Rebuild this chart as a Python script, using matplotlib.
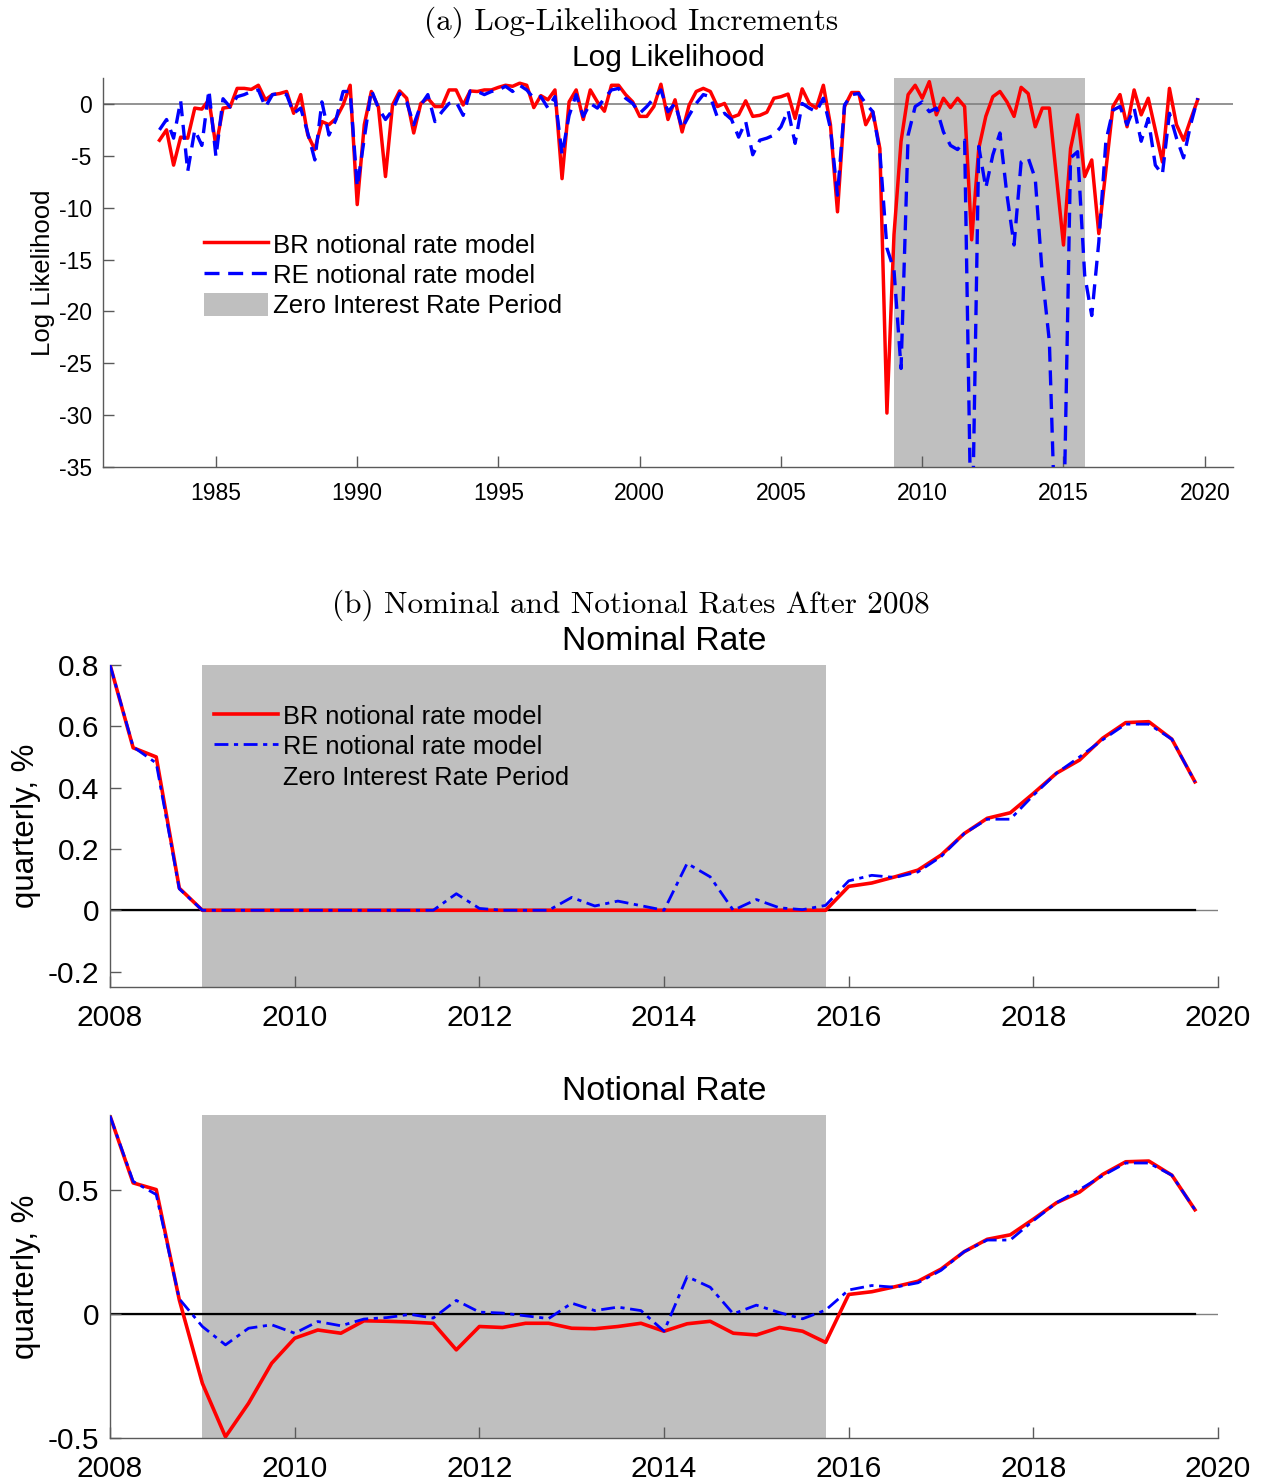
import numpy as np
import matplotlib
matplotlib.use("Agg")
import matplotlib.pyplot as plt
from matplotlib.patches import Patch
from matplotlib.lines import Line2D

plt.rcParams["font.family"] = ["Liberation Sans", "DejaVu Sans"]
plt.rcParams["axes.unicode_minus"] = False

# %% data: log-likelihood increments, quarterly 1983Q1 - 2019Q4
ll_start = 1983.0
ll_br = [
    -3.5, -2.5, -5.9, -3.2, -3.3, -0.4, -0.5, 0.4, -4.1, -0.4,
    -0.3, 1.5, 1.5, 1.4, 1.8, 0.4, 0.9, 1.0, 1.2, -0.9,
    0.9, -3.0, -4.4, -1.7, -2.0, -1.4, -0.1, 1.8, -9.7, -2.0,
    1.2, -0.3, -7.0, -0.1, 1.25, 0.55, -2.8, 0.05, 0.55, -0.25,
    -0.25, 1.35, 1.35, -0.1, 1.25, 1.2, 1.35, 1.35, 1.6, 1.8,
    1.7, 2.0, 1.8, -0.35, 0.8, 0.4, 1.35, -7.2, 0.2, 1.35,
    -1.5, 1.35, 0.2, -0.7, 1.8, 1.8, 0.9, 0.2, -1.2, -1.2,
    -0.25, 1.9, -1.5, 0.4, -2.7, -0.1, 1.2, 1.5, 1.2, -0.25,
    0.05, -1.3, -1.05, 0.3, -1.2, -1.1, -0.8, 0.55, 0.7, 0.95,
    -1.4, 1.45, 0.05, -0.4, 1.8, -2.0, -10.4, -0.25, 1.1, 1.1,
    -2.0, -0.75, -4.3, -29.8, -12.6, -3.6, 0.9, 1.8, 0.55, 2.15,
    -1.05, 0.55, -0.35, 0.55, -0.25, -13.1, -4.3, -1.2, 0.7, 1.2,
    0.2, -1.2, 1.6, 1.0, -2.2, -0.4, -0.4, -7.0, -13.6, -4.3,
    -1.05, -7.0, -5.4, -12.5, -6.4, -0.25, 0.9, -2.2, 1.35, -1.05,
    0.55, -2.5, -5.6, 1.5, -2.0, -3.5, -1.5, 0.4,
]
ll_re = [
    -2.5, -1.5, -3.3, 0.3, -6.5, -2.5, -4.0, 1.35, -5.1, 0.5,
    -0.3, 0.7, 0.9, 1.2, 1.35, -0.3, 0.9, 1.0, 0.9, -0.9,
    -0.4, -2.8, -5.4, 0.2, -3.0, -1.5, 1.2, 1.2, -8.0, -3.3,
    1.35, -0.4, -1.5, -0.6, 1.0, 0.2, -2.0, -0.1, 0.9, -1.7,
    -0.75, 0.05, 0.2, -1.1, 1.25, 1.2, 0.9, 1.2, 1.35, 1.7,
    1.2, 1.8, 1.35, 0.55, 0.7, -0.4, 0.7, -4.9, -1.1, 0.9,
    -1.2, 0.05, -0.4, 0.55, 1.35, 1.5, 0.55, 0.05, -0.9, -0.25,
    0.55, 1.35, -0.75, 0.05, -2.35, -1.1, 0.05, 0.9, 0.7, -1.3,
    -0.9, -1.5, -3.2, -1.7, -4.9, -3.5, -3.3, -3.0, -2.2, -0.6,
    -3.8, 0.05, -0.4, -0.75, 0.55, -2.35, -8.8, -0.1, 0.9, 1.0,
    0.05, -0.75, -4.6, -13.9, -16.0, -25.5, -3.0, -0.25, 0.2, -0.75,
    -0.4, -2.7, -4.0, -4.4, -3.5, -45.0, -4.1, -8.1, -4.9, -2.8,
    -8.8, -13.6, -5.6, -5.2, -7.2, -16.5, -22.9, -45.0, -42.0, -5.2,
    -4.6, -16.5, -20.4, -13.3, -3.6, -0.6, -0.25, -2.0, -0.4, -3.6,
    -1.4, -5.9, -6.8, -0.9, -3.3, -5.2, -2.0, 0.55,
]

# %% data: rates after 2008, quarterly 2008Q1 - 2019Q4
rate_start = 2008.0
nominal_br = [0.80, 0.53, 0.50, 0.072] + [0.0] * 28 + [
    0.078, 0.089, 0.109, 0.131, 0.18, 0.25, 0.30, 0.318,
    0.381, 0.447, 0.49, 0.561, 0.612, 0.615, 0.558, 0.419,
]
nominal_re = [
    0.80, 0.533, 0.48, 0.07, 0.0, 0.0, 0.0, 0.0, 0.0, 0.0,
    0.0, 0.0, 0.0, 0.0, 0.0, 0.054, 0.006, 0.0, 0.0, 0.0,
    0.042, 0.014, 0.03, 0.015, 0.0, 0.153, 0.109, 0.0, 0.035, 0.008,
    0.002, 0.016, 0.096, 0.114, 0.107, 0.125, 0.175, 0.25, 0.297, 0.297,
    0.375, 0.447, 0.50, 0.556, 0.607, 0.607, 0.558, 0.419,
]
notional_br = [
    0.796, 0.527, 0.50, 0.056, -0.28, -0.495, -0.36, -0.199, -0.098, -0.065,
    -0.078, -0.028, -0.03, -0.033, -0.038, -0.145, -0.051, -0.055, -0.038, -0.038,
    -0.058, -0.06, -0.051, -0.038, -0.07, -0.04, -0.03, -0.078, -0.085, -0.055,
    -0.07, -0.115, 0.078, 0.089, 0.109, 0.131, 0.18, 0.25, 0.30, 0.318,
    0.381, 0.447, 0.49, 0.561, 0.612, 0.615, 0.558, 0.419,
]
notional_re = [
    0.796, 0.533, 0.48, 0.06, -0.051, -0.125, -0.058, -0.044, -0.078, -0.031,
    -0.048, -0.021, -0.015, -0.002, -0.017, 0.054, 0.007, 0.003, -0.008, -0.019,
    0.043, 0.013, 0.027, 0.013, -0.07, 0.15, 0.107, 0.0, 0.035, 0.005,
    -0.02, 0.015, 0.096, 0.114, 0.107, 0.125, 0.175, 0.25, 0.297, 0.297,
    0.375, 0.447, 0.50, 0.556, 0.607, 0.607, 0.558, 0.419,
]

zirp = (2009.0, 2015.75)
labels = ["BR notional rate model", "RE notional rate model", "Zero Interest Rate Period"]

ll_t = ll_start + 0.25 * np.arange(len(ll_br))
rt = rate_start + 0.25 * np.arange(len(nominal_br))

SHADE = "#bfbfbf"
AXC = "#5a5a5a"


def style_axes(ax, fs, pad):
    for s in ["top", "right"]:
        ax.spines[s].set_visible(False)
    for s in ["left", "bottom"]:
        ax.spines[s].set_color(AXC)
        ax.spines[s].set_linewidth(1.0)
    ax.tick_params(direction="in", length=8, width=1, color=AXC,
                   labelsize=fs, pad=8, labelcolor="black")
    ax.tick_params(axis="x", pad=pad)


fig = plt.figure(figsize=(12.68, 14.83), dpi=100)

# %% (a) log likelihood
ax1 = fig.add_axes([0.0812, 0.6851, 0.8912, 0.2623])
ax1.axvspan(*zirp, color=SHADE, lw=0, zorder=0)
ax1.axhline(0, color="#808080", lw=1.2, zorder=1)
ax1.plot(ll_t, ll_br, color="red", lw=2.5, zorder=2)
l2, = ax1.plot(ll_t, ll_re, color="blue", lw=2.4, zorder=3)
l2.set_dashes([4.5, 2.6])
ax1.set_xlim(1981, 2021)
ax1.set_ylim(-35, 2.5)
ax1.set_xticks(np.arange(1985, 2021, 5))
ax1.set_yticks(np.arange(-35, 1, 5))
style_axes(ax1, 16.5, 11)
ax1.set_ylabel("Log Likelihood", fontsize=18.5, labelpad=3)
ax1.set_title("Log Likelihood", fontsize=21.5, pad=9)
h1 = [Line2D([], [], color="red", lw=2.5),
      Line2D([], [], color="blue", lw=2.4, dashes=[4.5, 2.6]),
      Patch(facecolor=SHADE, edgecolor="none")]
ax1.legend(h1, labels, loc="upper left", bbox_to_anchor=(0.08, 0.63),
           frameon=False, fontsize=18.5, handlelength=2.5, handleheight=1.0,
           handletextpad=0.2, labelspacing=0.2, borderaxespad=0)

fig.text(0.4975, 0.985, "(a) Log-Likelihood Increments", ha="center", va="center",
         fontsize=22.5, family=["cmr10", "DejaVu Serif"])
fig.text(0.4975, 0.592, "(b) Nominal and Notional Rates After 2008", ha="center",
         va="center", fontsize=22.5, family=["cmr10", "DejaVu Serif"])


def rate_panel(rect, br, re, title, ylim, yticks):
    ax = fig.add_axes(rect)
    ax.axvspan(*zirp, color=SHADE, lw=0, zorder=0)
    ax.axhline(0, color="#808080", lw=1.0, zorder=1)
    ax.plot([rt[0], rt[-1]], [0, 0], color="black", lw=1.6, zorder=1.5)
    ax.plot(rt, br, color="red", lw=2.6, zorder=2)
    l, = ax.plot(rt, re, color="blue", lw=2.0, zorder=3)
    l.set_dashes([5, 2, 1.5, 2])
    ax.set_xlim(2008, 2020)
    ax.set_ylim(*ylim)
    ax.set_xticks(np.arange(2008, 2021, 2))
    ax.set_yticks(yticks)
    style_axes(ax, 21.5, 12)
    ax.set_ylabel("quarterly, %", fontsize=22.5, labelpad=5)
    ax.set_title(title, fontsize=24.3, pad=11)
    return ax


ax2 = rate_panel([0.0868, 0.3345, 0.8738, 0.2171], nominal_br, nominal_re,
                 "Nominal Rate", (-0.25, 0.8), [-0.2, 0, 0.2, 0.4, 0.6, 0.8])
ax2.set_yticklabels(["-0.2", "0", "0.2", "0.4", "0.6", "0.8"])
h2 = [Line2D([], [], color="red", lw=2.6),
      Line2D([], [], color="blue", lw=2.0, dashes=[5, 2, 1.5, 2]),
      Patch(facecolor=SHADE, edgecolor="none")]
ax2.legend(h2, labels, loc="upper left", bbox_to_anchor=(0.085, 0.91),
           frameon=False, fontsize=18.3, handlelength=2.5, handleheight=1.0,
           handletextpad=0.2, labelspacing=0.2, borderaxespad=0)

ax3 = rate_panel([0.0868, 0.0303, 0.8738, 0.2178], notional_br, notional_re,
                 "Notional Rate", (-0.5, 0.8), [-0.5, 0, 0.5])
ax3.set_yticklabels(["-0.5", "0", "0.5"])

fig.savefig("out.png", dpi=100)
